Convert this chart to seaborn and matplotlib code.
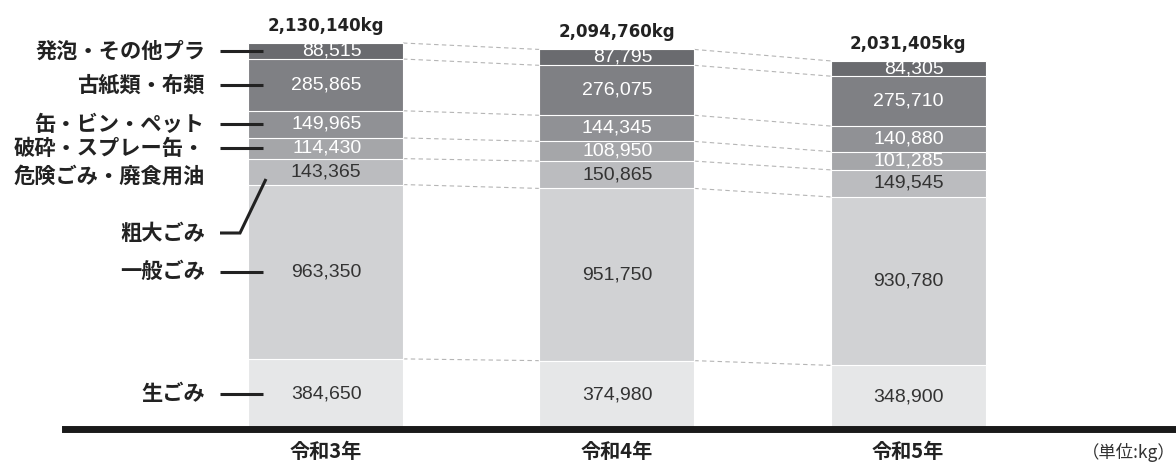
import numpy as np
import pandas as pd
import matplotlib.pyplot as plt
import seaborn as sns

# 年度と品目（下から積み上げ順）
years = ["令和3年", "令和4年", "令和5年"]
categories = ["生ごみ", "一般ごみ", "粗大ごみ", "破砕・スプレー缶・\n危険ごみ・廃食用油",
              "缶・ビン・ペット", "古紙類・布類", "発泡・その他プラ"]
r3 = [384650, 963350, 143365, 114430, 149965, 285865, 88515]
r4 = [374980, 951750, 150865, 108950, 144345, 276075, 87795]
r5 = [348900, 930780, 149545, 101285, 140880, 275710, 84305]

colors = ["#e6e7e8", "#d1d2d4", "#bbbcbf", "#a5a6a9", "#909195", "#7f8084", "#6a6b6f"]
text_colors = ["#333333", "#333333", "#333333", "white", "white", "white", "white"]

sns.set_theme(style="white")
plt.rcParams["font.family"] = ["Liberation Sans", "Noto Sans CJK JP", "DejaVu Sans"]
JP = ["Noto Sans CJK JP", "DejaVu Sans"]

values = np.array([r3, r4, r5])
cum = values.cumsum(axis=1)

rows = []
for i, y in enumerate(years):
    for k, c in enumerate(categories):
        rows.append({"year": y, "category": c, "value": values[i, k], "cum": cum[i, k]})
df = pd.DataFrame(rows)

# ピクセル配置の換算
W, H = 1176, 467
X0_PX, XSTEP_PX = 325.5, 291.25
BASE_PX = 428.5
KG_PER_PX = 5526


def px2x(px):
    return (px - X0_PX) / XSTEP_PX


def px2y(py):
    return (BASE_PX - py) * KG_PER_PX


fig = plt.figure(figsize=(W / 100, H / 100), dpi=100)
ax = fig.add_axes([65 / W, (H - BASE_PX) / H, (W - 65) / W, BASE_PX / H])

bar_w = 155 / XSTEP_PX

# 累積値を上から順に重ねて描いて積み上げに見せる
for k in reversed(range(len(categories))):
    sub = df[df["category"] == categories[k]]
    sns.barplot(data=sub, x="year", y="cum", order=years, color=colors[k],
                saturation=1, width=bar_w, edgecolor="white", linewidth=0.8,
                errorbar=None, ax=ax, zorder=2)

ax.set_xlim(px2x(65), px2x(W))
ax.set_ylim(0, px2y(0))

# 区切りの破線
for i in range(len(years) - 1):
    for k in range(len(categories)):
        ax.plot([i + bar_w / 2, i + 1 - bar_w / 2], [cum[i, k], cum[i + 1, k]],
                color="#b5b5b5", lw=0.8, dashes=(4, 3), zorder=1)

# 数値ラベル
for i in range(len(years)):
    for k in range(len(categories)):
        mid = cum[i, k] - values[i, k] / 2
        ax.text(i + 36 / XSTEP_PX, mid, f"{values[i, k]:,}", ha="right", va="center",
                fontsize=14, color=text_colors[k], zorder=5)
    ax.annotate(f"{cum[i, -1]:,}kg", xy=(i, cum[i, -1]), xytext=(0, 6),
                textcoords="offset points", ha="center", va="bottom",
                fontsize=12, fontweight="bold", family="DejaVu Sans", color="#222222")

# 左側の品目ラベルと引き出し線
lab_x = px2x(205)
for k in [6, 5, 4, 3, 1, 0]:
    mid = cum[0, k] - values[0, k] / 2
    ax.plot([px2x(220), px2x(263)], [mid, mid], color="#222222", lw=2.2,
            solid_capstyle="butt", zorder=6, clip_on=False)
    dy = -10 if "\n" in categories[k] else 0
    ax.annotate(categories[k], xy=(lab_x, mid), xytext=(0, dy), textcoords="offset points",
                ha="right", va="center", multialignment="right", linespacing=1.35,
                fontsize=15.3, fontweight="bold", family=JP, color="#222222",
                annotation_clip=False)

# 粗大ごみは折れ線で引き出す
ly = px2y(233)
ax.plot([px2x(220), px2x(240), px2x(266)], [ly, ly, px2y(179)], color="#222222", lw=2.2,
        solid_capstyle="butt", solid_joinstyle="miter", zorder=6, clip_on=False)
ax.text(lab_x, ly, categories[2], ha="right", va="center", fontsize=15.3,
        fontweight="bold", family=JP, color="#222222")

# 軸
sns.despine(ax=ax, left=True)
ax.spines["bottom"].set_linewidth(5)
ax.spines["bottom"].set_color("#1a1a1a")
ax.spines["bottom"].set_zorder(3)
ax.set_yticks([])
ax.set_xlabel("")
ax.set_ylabel("")
ax.tick_params(axis="x", length=0, pad=9)
for t in ax.get_xticklabels():
    t.set_fontfamily(JP)
    t.set_fontweight("bold")
    t.set_fontsize(14.5)
    t.set_color("#222222")

fig.text(1.0, 1 - 452 / H, "（単位:kg）", ha="right", va="center", fontsize=12.5,
         family=JP, color="#333333")

fig.savefig("out.png", dpi=100)
